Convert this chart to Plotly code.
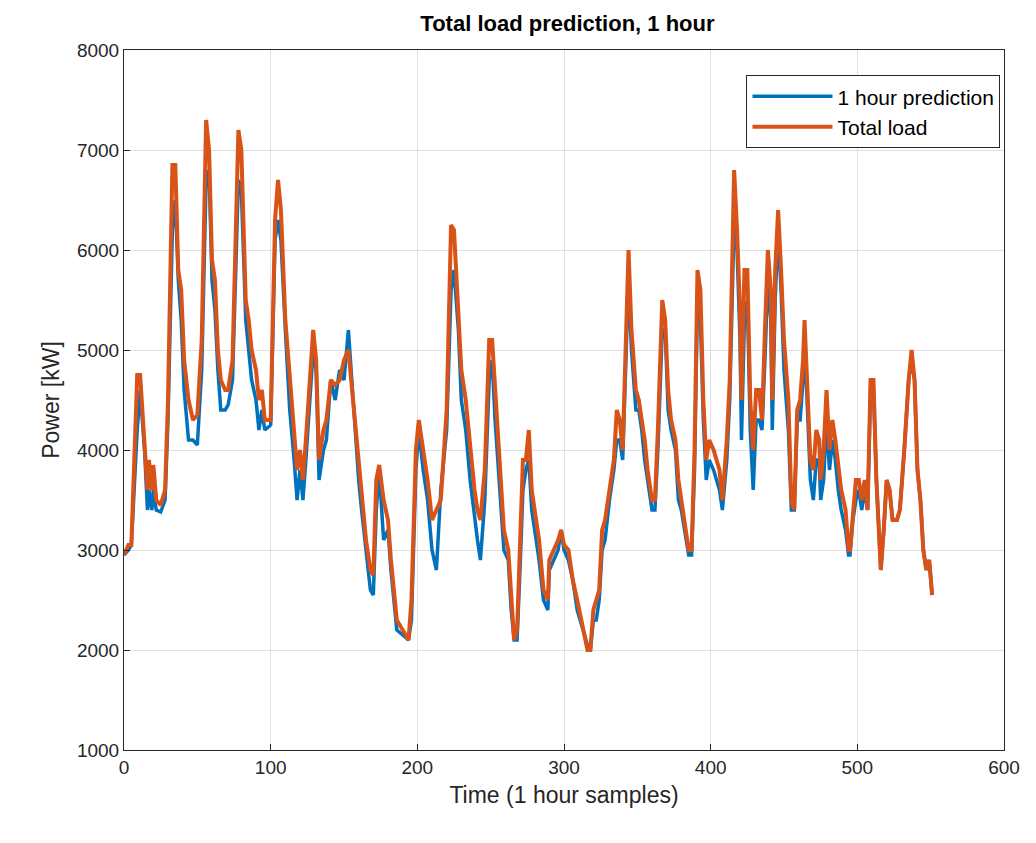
import plotly.graph_objects as go

t = [0,3,5,9,11,14,16,17,19,20,22,25,28,30,33,35,37,39,41,44,47,50,53,56,58,60,62,64,66,69,71,74,78,80,83,85,87,90,92,94,96,100,103,105,107,110,113,116,118,120,122,124,127,129,131,133,136,138,141,144,147,150,153,156,160,162,165,168,170,172,174,177,180,182,186,190,194,196,199,201,204,207,210,213,216,220,223,225,228,230,233,236,239,241,243,246,249,251,253,256,259,262,264,266,268,270,272,274,276,278,280,283,286,289,290,293,296,298,300,303,306,309,313,316,318,320,322,324,326,328,331,334,336,338,340,342,344,346,349,351,353,355,357,360,362,364,367,369,371,373,376,378,380,382,385,387,389,391,393,395,397,399,402,404,406,408,411,413,416,418,420,421,423,425,427,429,431,433,435,437,439,441,442,444,446,448,450,453,455,457,459,461,463,464,466,468,470,472,474,475,477,479,481,483,485,487,489,492,494,495,497,499,501,503,505,507,509,511,513,515,516,518,520,522,524,527,529,532,535,537,539,541,543,545,547,549,551]

load = [2950,3050,3050,4750,4750,4000,3600,3900,3600,3850,3500,3450,3600,4500,6850,6850,5800,5600,4900,4500,4300,4350,5100,7300,7000,5900,5700,5000,4700,4600,4600,4900,7200,7000,5500,5300,5000,4800,4500,4600,4300,4300,6300,6700,6400,5300,4700,4200,3800,4000,3700,4100,4700,5200,4900,3900,4200,4300,4700,4650,4700,4900,5000,4500,3900,3600,3100,2800,2750,3700,3850,3500,3300,2900,2300,2200,2100,2500,4000,4300,4000,3700,3300,3400,3500,4400,6250,6200,5300,4800,4500,4000,3600,3400,3300,3800,5100,5100,4600,3800,3200,3000,2600,2100,2200,3000,3900,3900,4200,3600,3400,3100,2600,2500,2900,3000,3100,3200,3050,3000,2700,2500,2200,2000,2000,2400,2500,2600,3200,3300,3600,3900,4400,4300,4000,5000,6000,5200,4600,4500,4300,4100,3800,3500,3500,4200,5500,5300,4600,4300,4100,3700,3500,3300,3000,3000,4000,5800,5600,4500,3900,4100,4000,3900,3800,3500,4100,4700,6800,6200,5400,4500,5800,5800,4500,4000,4600,4600,4300,5200,6000,5600,4500,5800,6400,5800,5100,4500,3500,3400,4400,4500,4900,5300,4500,3900,3800,4200,4100,3700,4000,4600,4000,4300,4100,3800,3600,3400,3000,3000,3400,3700,3700,3500,3700,3400,4700,4700,3700,3000,2800,3200,3700,3600,3300,3300,3400,4000,4700,5000,4700,3800,3500,3000,2800,2900,2550]

pred = [2950,3000,3050,4200,4600,4000,3400,3600,3400,3600,3400,3380,3500,4300,6200,6500,5700,5300,4600,4100,4100,4050,4800,6700,6800,5700,5400,4800,4400,4400,4450,4700,6700,6600,5300,5000,4700,4500,4200,4400,4200,4250,6100,6300,6100,5200,4400,3900,3500,3800,3500,3900,4500,5000,4800,3700,4000,4100,4700,4500,4800,4700,5200,4500,3700,3400,3000,2600,2550,3400,3800,3100,3200,2800,2200,2150,2100,2300,3800,4200,3800,3500,3000,2800,3600,4200,5600,5800,5200,4500,4200,3700,3300,3100,2900,3500,4700,4900,4300,3600,3000,2900,2400,2100,2100,2800,3600,3800,3900,3400,3200,2900,2500,2400,2800,2900,3000,3200,3000,2900,2700,2400,2200,2050,2000,2300,2300,2500,3000,3100,3500,3800,4100,4100,3900,4700,5700,5000,4400,4400,4200,3900,3700,3400,3400,4000,5200,5200,4400,4200,4000,3500,3400,3200,2950,2950,3800,5500,5300,4300,3700,3900,3800,3700,3600,3400,3900,4500,6300,6000,5100,4100,5300,5500,4200,3600,4300,4300,4200,4900,5700,5300,4200,5500,6200,5600,4800,4200,3400,3400,4300,4300,4700,5100,4300,3700,3500,3900,3900,3500,3700,4300,3800,4100,3900,3600,3400,3200,2950,2950,3300,3500,3600,3400,3600,3400,4600,4600,3700,3000,2800,3200,3700,3600,3300,3300,3400,4000,4700,4900,4700,3800,3500,3000,2800,2900,2550]

fig = go.Figure()
fig.add_trace(go.Scatter(x=t, y=pred, mode="lines", name="1 hour prediction",
                         line=dict(color="#0072BD", width=3.5)))
fig.add_trace(go.Scatter(x=t, y=load, mode="lines", name="Total load",
                         line=dict(color="#D95319", width=4)))

ax = dict(showgrid=True, gridcolor="#dfdfdf", gridwidth=1, zeroline=False,
          showline=True, linecolor="#262626", linewidth=1, mirror=True,
          ticks="inside", ticklen=6, tickcolor="#262626",
          tickfont=dict(size=19, color="#262626"))
fig.update_layout(
    width=1036, height=843, plot_bgcolor="white", paper_bgcolor="white",
    font=dict(family="Liberation Sans, Arial, sans-serif", color="#262626"),
    margin=dict(l=116, r=40, t=42, b=101),
    title=dict(text="<b>Total load prediction, 1 hour</b>", x=0.54, xanchor="center",
               y=0.982, yanchor="middle", font=dict(size=22, color="#000")),
    xaxis=dict(range=[0, 600], dtick=100, title=dict(text="Time (1 hour samples)", font=dict(size=23), standoff=10), **ax),
    yaxis=dict(range=[1000, 8000], dtick=1000, title=dict(text="Power [kW]", font=dict(size=23), standoff=10), **ax),
    legend=dict(x=0.996, y=0.964, xanchor="right", yanchor="top", bgcolor="white",
                bordercolor="#262626", borderwidth=1, itemwidth=80,
                font=dict(size=21, color="#000")),
    showlegend=True,
)
fig.write_html("out.html")
